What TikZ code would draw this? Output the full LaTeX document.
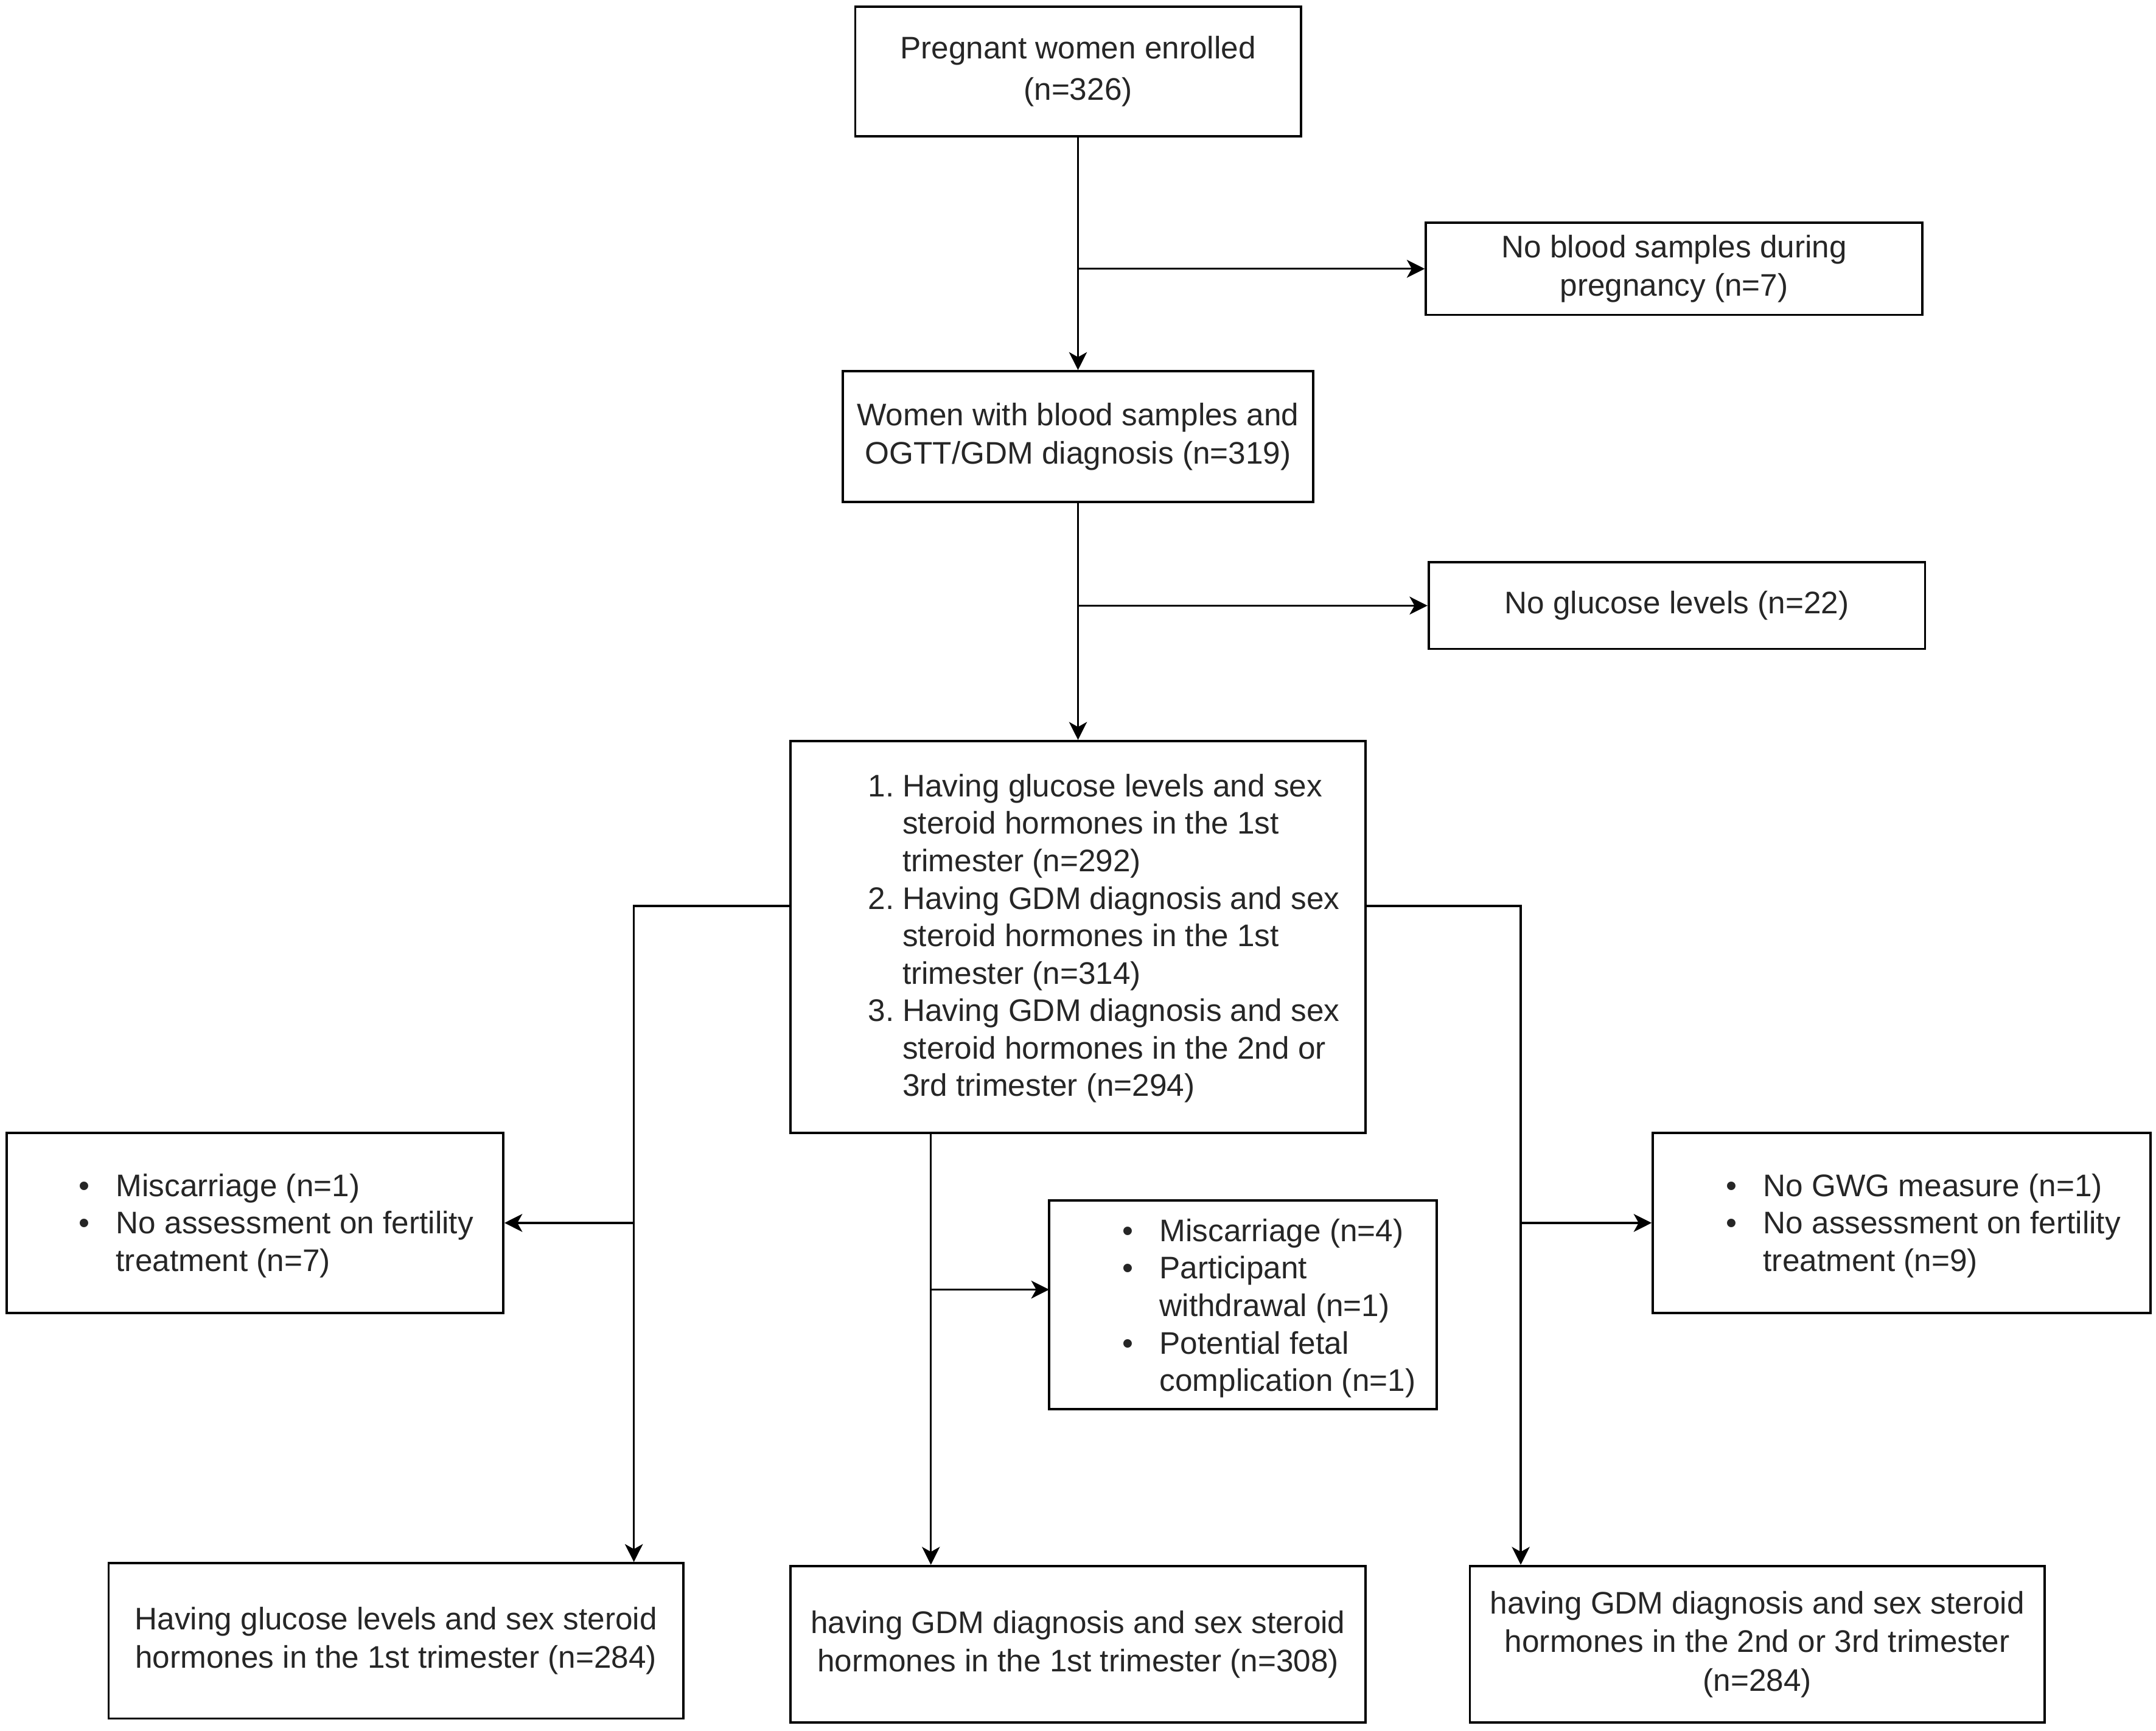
\documentclass[tikz,border=0pt]{standalone}
\usepackage{fontspec}
\setmainfont{Liberation Sans}
\usetikzlibrary{arrows.meta}
\newcommand\myfs{\fontsize{11.35}{13.62}\selectfont}
\newcommand\boxfs{\fontsize{11.35}{14}\selectfont}
\newcommand\bul{\makebox[13.5pt][l]{•}}
\newcommand\num[1]{\makebox[12.5pt][l]{#1}}
\begin{document}
\begin{tikzpicture}[x=0.5pt,y=-0.5pt,
  box/.style={draw=black, line width=0.85pt, rectangle, inner sep=0pt, align=center, font=\boxfs, text=black!85},
  txt/.style={inner sep=0pt, font=\myfs, text=black!85, anchor=west},
  arr/.style={line width=0.75pt, -{Stealth[length=6.5pt,width=6.5pt,inset=1.8pt]}}]
\fill[white] (0,0) rectangle (1568,1259);
\useasboundingbox (0,0) rectangle (1568,1259);

% boxes: center (x,y); width, height in pt = half of pixel size
\node[box, minimum width=162pt, minimum height=47pt, font=\fontsize{11.35}{15}\selectfont] (b1) at (784,52) {Pregnant women enrolled\\(n=326)};
\node[box, minimum width=180.5pt, minimum height=33.5pt] (b2) at (1217.5,195.5) {No blood samples during\\pregnancy (n=7)};
\node[box, minimum width=171pt, minimum height=47.5pt] (b3) at (784,317.5) {Women with blood samples and\\OGTT/GDM diagnosis (n=319)};
\node[box, minimum width=180.5pt, minimum height=31.5pt] (b4) at (1219.5,440.5) {No glucose levels (n=22)};
\node[box, minimum width=209pt, minimum height=142.5pt] (b5) at (784,681.5) {};
\node[txt] (t5) at (631,683) {\begin{tabular}{@{}l@{}l@{}}
\num{1.} & Having glucose levels and sex\\
 & steroid hormones in the 1st\\
 & trimester (n=292)\\
\num{2.} & Having GDM diagnosis and sex\\
 & steroid hormones in the 1st\\
 & trimester (n=314)\\
\num{3.} & Having GDM diagnosis and sex\\
 & steroid hormones in the 2nd or\\
 & 3rd trimester (n=294)
\end{tabular}};

\node[box, minimum width=180.5pt, minimum height=65.5pt] (b6) at (185.5,889.5) {};
\node[txt] (t6) at (57,892) {\begin{tabular}{@{}l@{}l@{}}
\bul & Miscarriage (n=1)\\
\bul & No assessment on fertility\\
 & treatment (n=7)
\end{tabular}};

\node[box, minimum width=141pt, minimum height=76pt] (b7) at (904,949) {};
\node[txt] (t7) at (816,952) {\begin{tabular}{@{}l@{}l@{}}
\bul & Miscarriage (n=4)\\
\bul & Participant\\
 & withdrawal (n=1)\\
\bul & Potential fetal\\
 & complication (n=1)
\end{tabular}};

\node[box, minimum width=181pt, minimum height=65.5pt] (b8) at (1383,889.5) {};
\node[txt] (t8) at (1255,892) {\begin{tabular}{@{}l@{}l@{}}
\bul & No GWG measure (n=1)\\
\bul & No assessment on fertility\\
 & treatment (n=9)
\end{tabular}};

\node[box, minimum width=209pt, minimum height=56.5pt] (b9) at (288,1193.5) {Having glucose levels and sex steroid\\hormones in the 1st trimester (n=284)};
\node[box, minimum width=209pt, minimum height=57pt] (b10) at (784,1196) {having GDM diagnosis and sex steroid\\hormones in the 1st trimester (n=308)};
\node[box, minimum width=209pt, minimum height=57pt] (b11) at (1278,1196) {having GDM diagnosis and sex steroid\\hormones in the 2nd or 3rd trimester\\(n=284)};

\coordinate (cL) at (461,659);
\coordinate (cM) at (677,824);
\coordinate (cR) at (1106,659);
\coordinate (m7) at (763,938);

\draw[arr] (b1.south) -- (b3.north);
\draw[arr] (b2.west -| b1.south) -- (b2.west);
\draw[arr] (b3.south) -- (b5.north);
\draw[arr] (b4.west -| b3.south) -- (b4.west);

\draw[arr] (b5.west |- cL) -- (cL) -- (cL |- b9.north);
\draw[arr] (cL |- b6.east) -- (b6.east);

\draw[arr] (cM) -- (cM |- b10.north);
\draw[arr] (cM |- m7) -- (m7);

\draw[arr] (b5.east |- cR) -- (cR) -- (cR |- b11.north);
\draw[arr] (cR |- b8.west) -- (b8.west);
\end{tikzpicture}
\end{document}
